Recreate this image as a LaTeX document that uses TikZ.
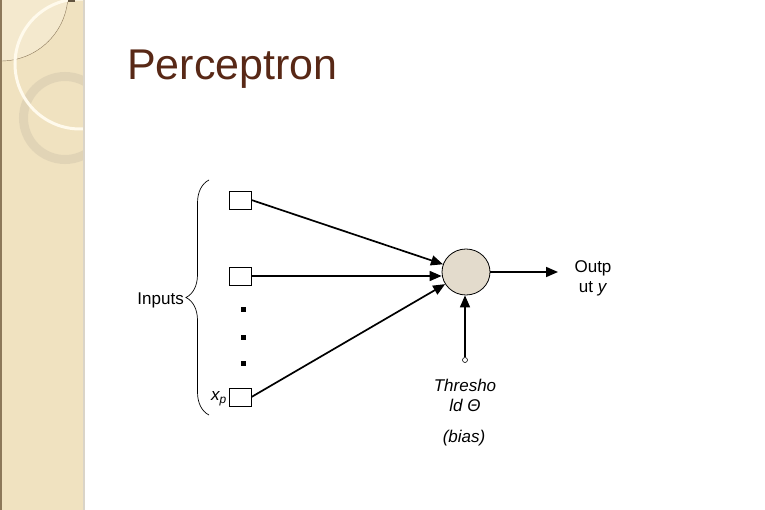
\documentclass[tikz,border=0pt]{standalone}
\usepackage{fontspec}
\setmainfont{Liberation Sans}
\usetikzlibrary{arrows.meta,shapes.geometric,decorations.pathreplacing}
\definecolor{band}{RGB}{240,226,192}
\definecolor{bandlight}{RGB}{244,233,206}
\definecolor{ringc}{RGB}{224,211,182}
\definecolor{arcw}{RGB}{255,250,236}
\definecolor{edgedark}{RGB}{140,120,90}
\definecolor{edgelight}{RGB}{218,212,200}
\definecolor{titlec}{RGB}{88,40,22}
\definecolor{neuron}{RGB}{227,219,204}
\tikzset{
  inbox/.style={draw, line width=0.9pt, minimum width=22pt, minimum height=18pt, inner sep=0pt},
  dotsq/.style={fill=black, minimum size=5pt, inner sep=0pt},
  neuronnode/.style={ellipse, draw, line width=0.8pt, fill=neuron, minimum width=48pt, minimum height=46pt, inner sep=0pt},
  biasnode/.style={circle, draw, line width=0.6pt, minimum size=5pt, inner sep=0pt, fill=white},
  conn/.style={line width=1.7pt, -{Triangle[length=12pt,width=10pt]}},
  lbl/.style={font=\fontsize{17}{20}\selectfont, align=center, inner sep=0pt},
}
\begin{document}
\begin{tikzpicture}[x=1pt,y=-1pt]
\useasboundingbox (0,0) rectangle (765,510);
\fill[white] (0,0) rectangle (765,510);
% left decorative band
\begin{scope}
  \clip (0,0) rectangle (84,510);
  \fill[band] (0,0) rectangle (84,510);
  \fill[bandlight] (1,-6) circle[radius=67];
  \draw[edgedark, line width=0.4pt] (1,-6) circle[radius=67];
  \draw[ringc, line width=9pt, opacity=0.9] (65,118) circle[radius=41.5];
  \draw[arcw, line width=3pt] (80,64) circle[radius=65];
  \fill[edgedark!70!black] (68,0) rectangle (75,2);
\end{scope}
\draw[edgedark, line width=1.5pt] (0.75,0) -- (0.75,510);
\draw[edgelight, line width=1.5pt] (84,0) -- (84,510);
% title
\node[anchor=base west, inner sep=0pt, text=titlec, font=\fontsize{43}{50}\selectfont] (title) at (127,80) {Perceptron};
% inputs
\node[inbox] (b1) at (240,200) {};
\node[inbox] (b2) at (240,276) {};
\node[inbox] (b3) at (240,397) {};
\node[dotsq] (d1) at (243,310) {};
\node[dotsq] (d2) at (243,337) {};
\node[dotsq] (d3) at (243,363) {};
\coordinate (bt) at (209,180);
\coordinate (bb) at (209,415);
\draw[line width=0.7pt, decorate, decoration={brace, amplitude=23pt}] (bb) -- (bt);
\node[lbl, anchor=east] (inputs) at (184,300) {Inputs};
\node[lbl, anchor=east] (xp) at (227,399) {\itshape x\textsubscript{p}};
% neuron
\node[neuronnode] (n) at (466,272) {};
\draw[conn] (b1.east) -- (n);
\draw[conn] (b2.east) -- (b2.east -| n.west);
\draw[conn] (b3.east) -- (n);
% output
\coordinate (o) at (558,272);
\draw[conn] (n.east) -- (o);
\node[lbl] (outl) at (593,278) {Outp\\ut \textit{y}};
% threshold
\node[biasnode] (t) at (465,360) {};
\draw[conn] (t.north) -- (t.north |- n.south);
\node[lbl] (thr) at (465,395) {\itshape Thresho\\\itshape ld Θ};
\node[lbl] (bias) at (464,438) {\itshape (bias)};
\end{tikzpicture}
\end{document}
